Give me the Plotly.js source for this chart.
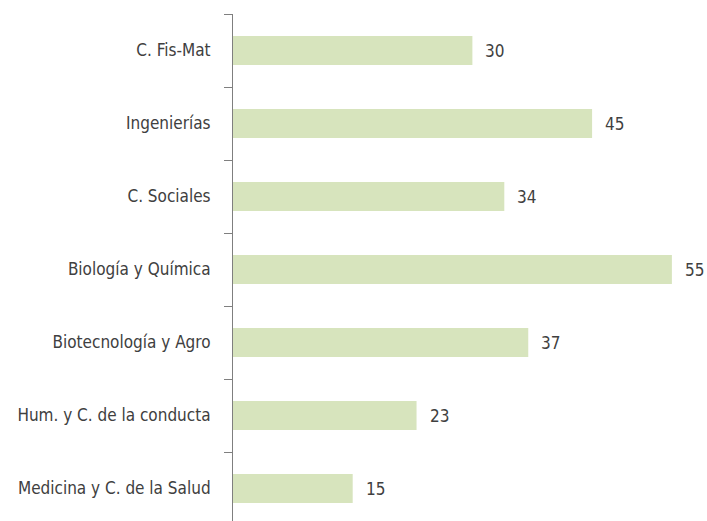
<!DOCTYPE html>
<html>
<head>
<meta charset="utf-8">
<script src="https://cdn.plot.ly/plotly-3.0.1.min.js"></script>
<style>html,body{margin:0;padding:0;background:#fff;}#chart{width:707px;height:521px;}</style>
</head>
<body>
<div id="chart"></div>
<script>
const categories = ["C. Fis-Mat", "Ingenierías", "C. Sociales", "Biología y Química", "Biotecnología y Agro", "Hum. y C. de la conducta", "Medicina y C. de la Salud"];
const values = [30, 45, 34, 55, 37, 23, 15];

const FONT = "'DejaVu Sans Condensed', 'Liberation Sans Narrow', sans-serif";

const trace = {
  type: "bar",
  orientation: "h",
  y: categories,
  x: values,
  width: 0.4,
  marker: {color: "#d7e4bd"},
  hoverinfo: "none"
};

const annotations = categories.map((c, i) => ({
  x: values[i], y: c, xref: "x", yref: "y",
  text: String(values[i]),
  showarrow: false, xanchor: "left", yanchor: "middle",
  xshift: 11,
  font: {family: FONT, size: 17, color: "#404040"}
}));

const layout = {
  width: 707, height: 521,
  margin: {l: 233, r: 0, t: 14, b: 0, pad: 0},
  paper_bgcolor: "#fff", plot_bgcolor: "#fff",
  showlegend: false,
  annotations: annotations,
  xaxis: {range: [0, 59.4], visible: false, fixedrange: true},
  yaxis: {
    type: "category",
    categoryorder: "array", categoryarray: categories,
    range: [6.445, -0.5],
    showline: true, linecolor: "#7f7f7f", linewidth: 1,
    ticks: "outside", ticklen: 8, tickcolor: "#7f7f7f", tickwidth: 1,
    tickson: "boundaries",
    showgrid: false, zeroline: false,
    ticklabelstandoff: 18,
    tickfont: {family: FONT, size: 17, color: "#404040"}
  }
};

Plotly.newPlot("chart", [trace], layout, {staticPlot: true, displayModeBar: false});
</script>
</body>
</html>
